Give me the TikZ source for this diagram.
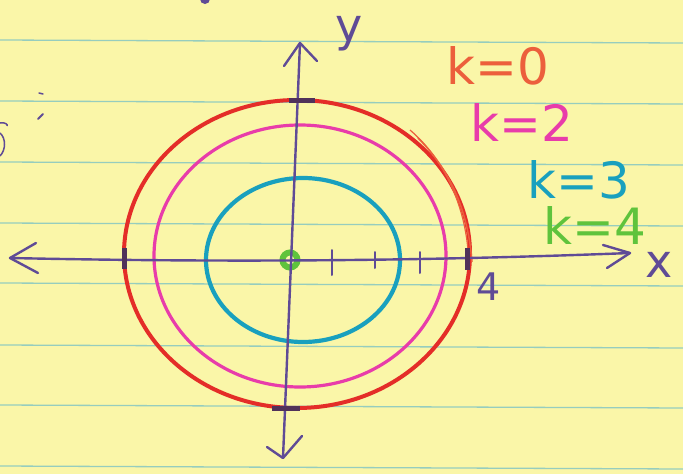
\documentclass[tikz,border=0pt]{standalone}
\usepackage{fontspec}
\setmainfont{DejaVu Sans}
\definecolor{paper}{RGB}{250,246,168}
\definecolor{rule}{RGB}{150,205,190}
\definecolor{axiscol}{RGB}{95,75,150}
\definecolor{redc}{RGB}{228,45,40}
\definecolor{redo}{RGB}{236,95,60}
\definecolor{pinkc}{RGB}{232,60,170}
\definecolor{cyanc}{RGB}{25,160,190}
\definecolor{greenc}{RGB}{95,195,60}
\definecolor{tickc}{RGB}{80,50,90}
\begin{document}
\begin{tikzpicture}[x=1pt,y=-1pt,
  ruleline/.style={rule,line width=1.3pt},
  axis/.style={axiscol,line width=2.4pt,line cap=round,line join=round},
  tickmark/.style={axiscol,line width=2pt,line cap=round},
  darktick/.style={tickc,line width=5pt},
  lbl/.style={inner sep=0pt,font=\fontsize{50}{50}\selectfont}]
\useasboundingbox (0,0) rectangle (683,474);
\fill[paper] (0,0) rectangle (683,474);
% ruled lines
\foreach \y in {40,101,162,223,283,345,405,466}
  \draw[ruleline] (0,\y) -- (683,\y+3);
% stray marks
\fill[axiscol] (205,-1) circle (5);
\draw[axiscol,line width=1.5pt,line cap=round] (39,93) -- (43,94);
\draw[axiscol,line width=2pt,line cap=round] (38,119) -- (43,114);
\draw[axiscol,line width=1.5pt] (0,123) .. controls (6,122) and (8,125) .. (7,126);
\draw[axiscol,line width=1.5pt] (0,133) .. controls (6,138) and (6,150) .. (0,156);
% circles
\draw[redc,line width=4pt] (297,254) ellipse [x radius=173, y radius=154];
\draw[redo,line width=1.5pt] (418,138) .. controls (450,170) and (468,210) .. (472,262);
\draw[redo,line width=1.2pt] (410,130) .. controls (445,160) and (464,205) .. (468,250);
\draw[pinkc,line width=3.2pt] (300,256) ellipse [x radius=146, y radius=131];
\draw[cyanc,line width=4.2pt] (303,260) ellipse [x radius=97, y radius=82];
\draw[greenc,line width=6pt] (290,260) circle (7.5);
% axes
\coordinate (xl) at (10,258);
\coordinate (xr) at (630,253);
\coordinate (yt) at (300,43);
\coordinate (yb) at (283,458);
\draw[axis] (xl) .. controls (200,262) and (400,262) .. (xr);
\draw[axis] (yt) -- (yb);
\draw[axis] (36,243) -- (xl) -- (38,273);
\draw[axis] (603,245) -- (xr) -- (607,268);
\draw[axis] (284,66) -- (yt) -- (317,61);
\draw[axis] (267,447) -- (yb) -- (302,436);
% ticks
\draw[tickmark] (332,250) -- (332,275);
\draw[tickmark] (375,252) -- (375,268);
\draw[tickmark] (420,252) -- (420,273);
\draw[darktick] (467,248) -- (467,270);
\draw[darktick] (124,248) -- (124,269);
\draw[darktick] (289,100) -- (315,100);
\draw[darktick] (272,408) -- (300,408);
% labels
\node[lbl,text=axiscol,font=\fontsize{46}{46}\selectfont] (ylab) at (349,34) {y};
\node[lbl,text=axiscol,font=\fontsize{46}{46}\selectfont] (xlab) at (659,265) {x};
\node[lbl,text=axiscol,font=\fontsize{38}{38}\selectfont] (four) at (489,287) {4};
\node[lbl,text=redo] (k0) at (498,66) {k=0};
\node[lbl,text=pinkc] (k2) at (522,123) {k=2};
\node[lbl,text=cyanc] (k3) at (579,180) {k=3};
\node[lbl,text=greenc] (k4) at (595,226) {k=4};
\end{tikzpicture}
\end{document}
